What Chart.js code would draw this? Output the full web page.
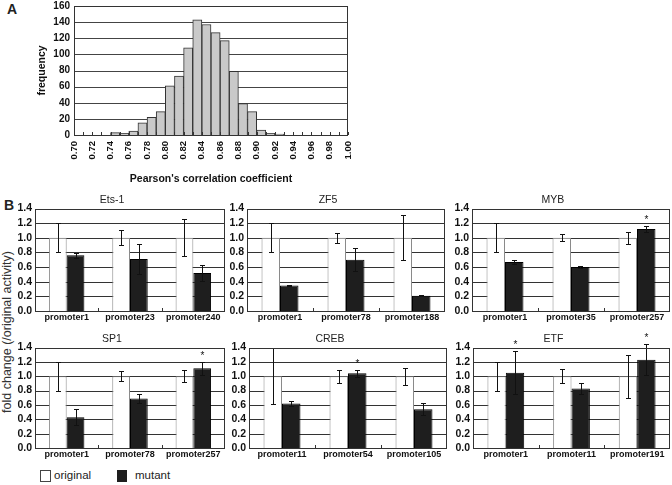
<!DOCTYPE html>
<html>
<head>
<meta charset="utf-8">
<script src="https://cdn.jsdelivr.net/npm/chart.js@4.4.0/dist/chart.umd.min.js"></script>
<style>
  body { margin: 0; background: #fff; }
  #page { position: relative; width: 672px; height: 485px; overflow: hidden;
          font-family: "Liberation Sans", Arial, sans-serif; color: #222; }
  canvas { position: absolute; }
  .txt { position: absolute; white-space: nowrap; }
  .box { position: absolute; box-sizing: border-box; }
</style>
</head>
<body>
<div id="page">
  <div class="txt" style="left:7px;top:1px;font-weight:bold;font-size:14px;">A</div>
  <div class="txt" style="left:4px;top:197px;font-weight:bold;font-size:14px;">B</div>
  <div class="txt" style="left:7px;top:332px;font-size:12.5px;color:#333;transform:translate(-50%,-50%) rotate(-90deg);">fold change (/original activity)</div>
  <div class="box" style="left:40px;top:470px;width:11px;height:12px;border:1px solid #444;background:#fff;"></div>
  <div class="txt" style="left:54px;top:469px;font-size:11.5px;">original</div>
  <div class="box" style="left:117px;top:470px;width:10px;height:12px;background:#1e1e1e;"></div>
  <div class="txt" style="left:135px;top:469px;font-size:11.5px;">mutant</div>
</div>
<script>
// ---------- panel A : histogram ----------
const binStart  = [0.74, 0.75, 0.76, 0.77, 0.78, 0.79, 0.80, 0.81, 0.82, 0.83,
                   0.84, 0.85, 0.86, 0.87, 0.88, 0.89, 0.90, 0.91, 0.92];
const frequency = [3, 2, 5, 15, 22, 29, 61, 73, 108, 143,
                   137, 127, 117, 79, 39, 29, 6, 2, 1];
const binWidth = 0.01;

// ---------- panel B : promoter activity ----------
const titles = ["Ets-1", "ZF5", "MYB", "SP1", "CREB", "ETF"];
const promoters = [
  ["promoter1", "promoter23", "promoter240"],
  ["promoter1", "promoter78", "promoter188"],
  ["promoter1", "promoter35", "promoter257"],
  ["promoter1", "promoter78", "promoter257"],
  ["promoter11", "promoter54", "promoter105"],
  ["promoter1", "promoter11", "promoter191"]
];
const original = [[1, 1, 1], [1, 1, 1], [1, 1, 1], [1, 1, 1], [1, 1, 1], [1, 1, 1]];
const originalErr = [
  [0.20, 0.10, 0.25], [0.20, 0.07, 0.31], [0.20, 0.05, 0.08],
  [0.20, 0.07, 0.08], [0.39, 0.09, 0.12], [0.20, 0.10, 0.30]
];
const mutant = [
  [0.76, 0.71, 0.52], [0.35, 0.70, 0.21], [0.67, 0.60, 1.12],
  [0.43, 0.69, 1.11], [0.62, 1.04, 0.54], [1.05, 0.83, 1.23]
];
const mutantErr = [
  [0.03, 0.20, 0.11], [0.01, 0.16, 0.01], [0.03, 0.01, 0.04],
  [0.11, 0.06, 0.09], [0.04, 0.05, 0.08], [0.30, 0.08, 0.22]
];
const significant = [
  [0, 0, 0], [0, 0, 0], [0, 0, 1],
  [0, 0, 1], [0, 1, 0], [1, 0, 1]
];

// plot areas [left, top, right, bottom] in page pixels
const plotBoxes = [
  [35, 208, 225, 311], [247, 208, 445, 311], [472, 208, 670, 311],
  [35, 347, 225, 448], [249, 347, 447, 448], [473, 347, 670, 448]
];

const FONT = "'Liberation Sans', Arial, sans-serif";
const page = document.getElementById("page");

function makeCanvas(left, top, w, h) {
  const c = document.createElement("canvas");
  c.width = w; c.height = h;
  c.style.left = left + "px"; c.style.top = top + "px";
  c.style.width = w + "px"; c.style.height = h + "px";
  page.appendChild(c);
  return c;
}

// grid lines, frame and inner x ticks, painted as 1px fills from the scales
const gridFrame = {
  id: "gridFrame",
  beforeDatasetsDraw(chart, args, opts) {
    const { ctx, chartArea: a } = chart;
    const ys = chart.scales.y;
    const l = Math.round(a.left), r = Math.round(a.right);
    ctx.save();
    ctx.fillStyle = opts.gridColor || "#444";
    ys.ticks.forEach(t => {
      ctx.fillRect(l, Math.round(ys.getPixelForValue(t.value)), r - l, 1);
    });
    ctx.restore();
  },
  afterDatasetsDraw(chart, args, opts) {
    const { ctx, chartArea: a } = chart;
    const l = Math.round(a.left), r = Math.round(a.right);
    const t = Math.round(a.top), b = Math.round(a.bottom);
    ctx.save();
    ctx.fillStyle = "#333";
    ctx.fillRect(l, t, r - l, 1);
    ctx.fillRect(l, b, r - l, 1);
    ctx.fillRect(l, t, 1, b - t + 1);
    ctx.fillRect(r - 1, t, 1, b - t + 1);
    const xs = chart.scales.x;
    if (opts.kind === "linear") {
      xs.ticks.forEach(tk => {
        ctx.fillRect(Math.round(xs.getPixelForValue(tk.value)), b - 3, 1, 3);
      });
    } else {
      for (let i = 0; i < xs.ticks.length - 1; i++) {
        const px = Math.round((xs.getPixelForValue(i) + xs.getPixelForValue(i + 1)) / 2);
        ctx.fillRect(px, b - 3, 1, 3);
      }
    }
    ctx.restore();
  }
};

// error bars and asterisks
const errorBars = {
  id: "errorBars",
  afterDatasetsDraw(chart, args, opts) {
    const { ctx } = chart;
    const ys = chart.scales.y;
    ctx.save();
    ctx.fillStyle = "#111";
    chart.data.datasets.forEach((ds, d) => {
      const meta = chart.getDatasetMeta(d);
      meta.data.forEach((bar, i) => {
        const v = ds.data[i], e = opts.errors[d][i];
        const x = Math.round(bar.x);
        const yTop = Math.round(ys.getPixelForValue(v + e));
        const yBot = Math.round(ys.getPixelForValue(v - e));
        ctx.fillRect(x, yTop, 1, yBot - yTop + 1);
        ctx.fillRect(x - 2, yTop, 5, 1);
        ctx.fillRect(x - 2, yBot, 5, 1);
        if (d === 1 && opts.stars[i]) {
          ctx.font = "10px " + FONT;
          ctx.textAlign = "center";
          ctx.textBaseline = "alphabetic";
          ctx.fillText("*", x + 0.5, yTop - 3);
        }
      });
    });
    ctx.restore();
  }
};

// ---------- histogram ----------
{
  const W = 366, H = 204;
  const canvas = makeCanvas(0, -4, W, H);
  new Chart(canvas, {
    type: "bar",
    data: {
      datasets: [{
        data: binStart.map((b, i) => ({ x: b + binWidth / 2, y: frequency[i] })),
        backgroundColor: "#c9c9c9",
        borderColor: "#333",
        borderWidth: 1,
        barPercentage: 1,
        categoryPercentage: 1
      }]
    },
    options: {
      responsive: false,
      animation: false,
      layout: { padding: { top: 10, right: 18, left: 0, bottom: 0 } },
      plugins: {
        legend: { display: false },
        tooltip: { enabled: false },
        gridFrame: { kind: "linear", gridColor: "#444" }
      },
      scales: {
        x: {
          type: "linear", offset: false,
          min: 0.70, max: 1.00,
          grid: { display: false, drawTicks: false, offset: false },
          border: { display: false },
          ticks: {
            stepSize: 0.01, maxTicksLimit: 100, autoSkip: false,
            minRotation: 90, maxRotation: 90, padding: 6,
            color: "#111", font: { family: FONT, size: 9.5, weight: "bold" },
            callback: v => Math.round(v * 100) % 2 === 0 ? v.toFixed(2) : ""
          },
          title: {
            display: true, text: "Pearson's correlation coefficient", color: "#111",
            font: { family: FONT, size: 10.5, weight: "bold" }, padding: { top: 0, bottom: 14.7 }
          },
          afterFit: s => { s.height = H - 139; }
        },
        y: {
          type: "linear",
          min: 0, max: 160,
          grid: { display: false, drawTicks: false },
          border: { display: false },
          ticks: { stepSize: 20, padding: 4, color: "#111",
                   font: { family: FONT, size: 10, weight: "bold", lineHeight: 1 } },
          title: {
            display: true, text: "frequency", color: "#111",
            font: { family: FONT, size: 10.5, weight: "bold" }, padding: { top: 35.7, bottom: 0 }
          },
          afterFit: s => { s.width = 74; }
        }
      }
    },
    plugins: [gridFrame]
  });
}

// ---------- six promoter charts ----------
titles.forEach((title, k) => {
  const [L, T, R, B] = plotBoxes[k];
  const yW = 36, titleH = 15, xH = 16, padR = 2;
  const W = (R - L) + yW + padR;
  const H = titleH + (B - T) + xH;
  const canvas = makeCanvas(L - yW, T - titleH, W, H);
  new Chart(canvas, {
    type: "bar",
    data: {
      labels: promoters[k],
      datasets: [
        { label: "original", data: original[k], backgroundColor: "#fff",
          borderColor: "#8a8a8a", borderWidth: 1 },
        { label: "mutant", data: mutant[k], backgroundColor: "#1e1e1e",
          borderColor: "#000", borderWidth: 1 }
      ]
    },
    options: {
      responsive: false,
      animation: false,
      layout: { padding: { top: 0, right: padR, left: 0, bottom: 0 } },
      datasets: { bar: { barPercentage: 1, categoryPercentage: 0.56 } },
      plugins: {
        legend: { display: false },
        tooltip: { enabled: false },
        title: { display: true, text: title, color: "#222",
                 font: { family: FONT, size: 10.5, weight: "normal", lineHeight: 1 },
                 padding: { top: 2, bottom: 3 } },
        errorBars: { errors: [originalErr[k], mutantErr[k]], stars: significant[k] },
        gridFrame: { kind: "category", gridColor: "#333" }
      },
      scales: {
        x: {
          grid: { display: false, drawTicks: false },
          border: { display: false },
          ticks: { padding: 2, color: "#111",
                   font: { family: FONT, size: 9, weight: "bold", lineHeight: 1 } },
          afterFit: s => { s.height = xH; }
        },
        y: {
          min: 0, max: 1.4,
          grid: { display: false, drawTicks: false },
          border: { display: false },
          ticks: { stepSize: 0.2, padding: 3, color: "#111",
                   font: { family: FONT, size: 10.5, weight: "bold", lineHeight: 1 },
                   callback: v => v.toFixed(1) },
          afterFit: s => { s.width = yW; }
        }
      }
    },
    plugins: [errorBars, gridFrame]
  });
});
</script>
</body>
</html>
